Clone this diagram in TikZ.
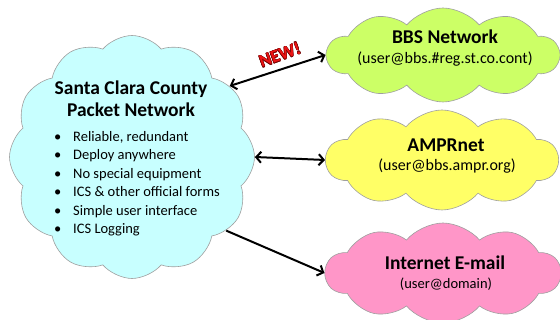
\documentclass[tikz,border=0pt]{standalone}
\usepackage{fontspec}
\setmainfont{Carlito}
\usepackage{xcolor}
\usepackage{tikz}
\usepackage{contour}
\usetikzlibrary{arrows.meta,shapes.symbols}

\definecolor{sccblue}{RGB}{200,255,255}
\definecolor{bbsgreen}{RGB}{204,255,102}
\definecolor{ampyellow}{RGB}{255,255,102}
\definecolor{mailpink}{RGB}{255,150,200}
\definecolor{newred}{RGB}{235,20,20}
\definecolor{newedge}{RGB}{110,0,0}
\newcommand{\blt}{\makebox[19pt][l]{\textbullet}}
\contourlength{0.45pt}
\contournumber{8}

\begin{document}
\begin{tikzpicture}[x=1pt,y=1pt]
\tikzstyle{cloudy}=[cloud, cloud puffs=10, cloud puff arc=100, cloud ignores aspect, draw=gray!75, line width=0.6pt]
\tikzstyle{head}=[font=\fontsize{19.5}{22}\selectfont\bfseries, align=center, inner sep=0pt]
\tikzstyle{addr}=[font=\fontsize{16}{18}\selectfont, inner sep=0pt]
\tikzstyle{link}=[line width=2pt, {Straight Barb[length=5pt,width=11pt]}-{Straight Barb[length=5pt,width=11pt]}]
\useasboundingbox (0,0) rectangle (560,320);

\node[cloudy, cloud puffs=12, fill=sccblue, minimum width=245, minimum height=243] (scc) at (132,163) {};
\node[cloudy, fill=bbsgreen, minimum width=232, minimum height=94] (bbs) at (443,265) {};
\node[cloudy, fill=ampyellow, minimum width=232, minimum height=100] (amp) at (442,160) {};
\node[cloudy, fill=mailpink, minimum width=235, minimum height=100] (mail) at (443,47) {};

\node[head] (scctitle) at (131,221) {Santa Clara County\\Packet Network};
\node[font=\fontsize{14.5}{18.5}\selectfont, align=left, inner sep=0pt, anchor=north west] (feat) at (54,189)
  {\blt Reliable, redundant\\
   \blt Deploy anywhere\\
   \blt No special equipment\\
   \blt ICS \& other official forms\\
   \blt Simple user interface\\
   \blt ICS Logging};

\node[head] (bbsname) at (445,283) {BBS Network};
\node[addr] (bbsaddr) at (445,261) {(user@bbs.\#reg.st.co.cont)};
\node[head] (ampname) at (446,175) {AMPRnet};
\node[addr] (ampaddr) at (447,154) {(user@bbs.ampr.org)};
\node[head] (mailname) at (445,57) {Internet E-mail};
\node[addr, font=\fontsize{14.5}{16}\selectfont] (mailaddr) at (446,36) {(user@domain)};

\node[rotate=20, font=\fontsize{18}{20}\selectfont\bfseries] (new) at (280,265) {\contour{newedge}{\textcolor{newred}{NEW!}}};

\draw[link] (scc.36) -- (bbs.west);
\draw[link] (scc.east) -- (amp.west);
\draw[line width=2pt, -{Straight Barb[length=5pt,width=11pt]}] (scc.-38) -- (mail.west);

\end{tikzpicture}
\end{document}
